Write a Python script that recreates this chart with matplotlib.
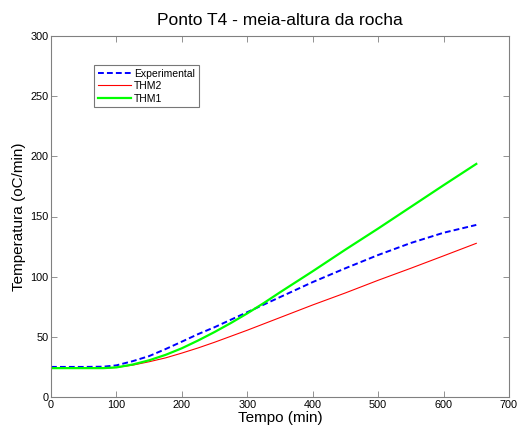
import matplotlib
matplotlib.use('Agg')
import matplotlib.pyplot as plt

plt.rcParams['font.family'] = ['Liberation Sans', 'DejaVu Sans']

# Experimental curve
tempo_exp = [0, 50, 80, 100, 125, 150, 175, 200, 225, 250, 300, 350, 400, 450, 500, 550, 600, 650]
temp_exp = [25, 25, 25.2, 26.3, 29.8, 34, 39.8, 46, 52.3, 58, 70.5, 83, 95.5, 107, 118, 128, 136.5, 143]

# THM2 model
tempo_thm2 = [0, 50, 80, 100, 125, 150, 175, 200, 225, 250, 300, 350, 400, 450, 500, 550, 600, 650]
temp_thm2 = [24, 24, 24, 24.6, 26.5, 29.3, 32.5, 36.5, 40.8, 45.5, 55.5, 66, 76.5, 86.5, 97, 107, 117.3, 127.7]

# THM1 model
tempo_thm1 = [0, 50, 80, 100, 125, 150, 175, 200, 225, 250, 275, 300, 325, 350, 400, 450, 500, 550, 600, 650]
temp_thm1 = [24, 24, 24, 24.6, 27, 30.5, 35, 40.5, 47, 54, 61.5, 69.5, 78, 87, 104.5, 122.5, 140, 158, 176, 193.7]

fig = plt.figure(figsize=(5.17, 4.30), dpi=100)
ax = fig.add_axes([51/517, 33/430, 458/517, 361/430])

ax.plot(tempo_exp, temp_exp, '--', color='#0000ff', lw=1.4, dashes=(3, 1.6), label='Experimental')
ax.plot(tempo_thm2, temp_thm2, '-', color='#ff0000', lw=0.8, label='THM2')
ax.plot(tempo_thm1, temp_thm1, '-', color='#00ff00', lw=1.6, label='THM1')

ax.set_xlim(0, 700)
ax.set_ylim(0, 300)
ax.set_xticks(range(0, 701, 100))
ax.set_yticks(range(0, 301, 50))
ax.tick_params(direction='in', top=True, right=True, labelsize=7.8, length=4, width=0.6, colors='#808080', labelcolor='black', pad=2)
for s in ax.spines.values():
    s.set_color('#808080')
    s.set_linewidth(0.8)

ax.set_title('Ponto T4 - meia-altura da rocha', fontsize=12.5, pad=8)
ax.set_xlabel('Tempo (min)', fontsize=11, labelpad=1)
ax.set_ylabel('Temperatura (oC/min)', fontsize=11, labelpad=3)

leg = ax.legend(loc='upper left', bbox_to_anchor=(0.094, 0.92), fontsize=7.5, frameon=True, fancybox=False,
                handlelength=3.2, handletextpad=0.3, borderpad=0.35, labelspacing=0.25, borderaxespad=0)
leg.get_frame().set_edgecolor('#555555')
leg.get_frame().set_linewidth(0.8)

fig.savefig('out.png', dpi=100)
